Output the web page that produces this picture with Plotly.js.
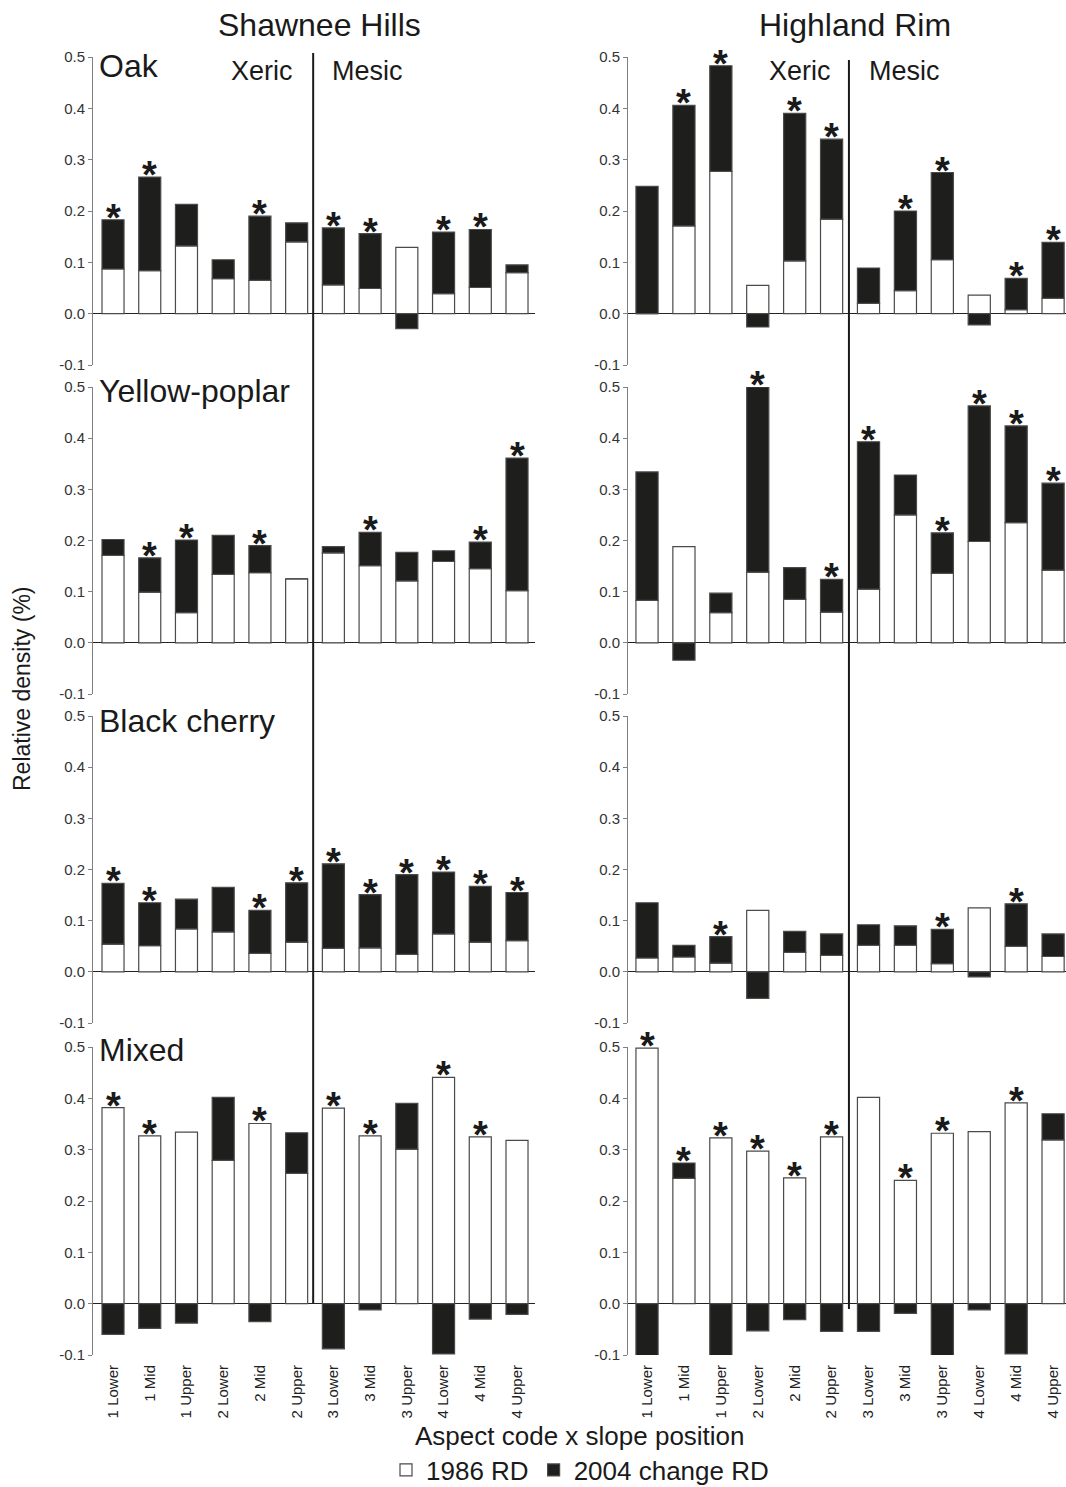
<!DOCTYPE html>
<html>
<head>
<meta charset="utf-8">
<script src="https://cdn.plot.ly/plotly-3.0.1.min.js"></script>
<style>html,body{margin:0;padding:0;background:#fff;}#chart{width:1066px;height:1487px;}</style>
</head>
<body>
<div id="chart"></div>
<script>
// ---------- DATA ----------
const positions = ['1 Lower','1 Mid','1 Upper','2 Lower','2 Mid','2 Upper','3 Lower','3 Mid','3 Upper','4 Lower','4 Mid','4 Upper'];
const regions = ['Shawnee Hills', 'Highland Rim'];
const species = ['Oak', 'Yellow-poplar', 'Black cherry', 'Mixed'];
const aspectGroups = ['Xeric', 'Mesic'];
const seriesNames = ['1986 RD', '2004 change RD'];
const yTickVals = [-0.1, 0, 0.1, 0.2, 0.3, 0.4, 0.5];
const yTickText = ['-0.1', '0.0', '0.1', '0.2', '0.3', '0.4', '0.5'];

// Oak
const oakSH_1986   = [0.087, 0.084, 0.132, 0.068, 0.065, 0.140, 0.056, 0.049, 0.129, 0.039, 0.051, 0.080];
const oakSH_change = [0.096, 0.182, 0.081, 0.037, 0.125, 0.037, 0.111, 0.107, -0.029, 0.120, 0.113, 0.015];
const oakSH_sig    = [1, 1, 0, 0, 1, 0, 1, 1, 0, 1, 1, 0];
const oakHR_1986   = [0.000, 0.171, 0.277, 0.055, 0.103, 0.184, 0.020, 0.045, 0.105, 0.036, 0.008, 0.030];
const oakHR_change = [0.248, 0.235, 0.206, -0.026, 0.287, 0.156, 0.069, 0.155, 0.170, -0.022, 0.061, 0.109];
const oakHR_sig    = [0, 1, 1, 0, 1, 1, 0, 1, 1, 0, 1, 1];
// Yellow-poplar
const ypSH_1986    = [0.171, 0.099, 0.059, 0.134, 0.137, 0.125, 0.176, 0.151, 0.121, 0.159, 0.145, 0.102];
const ypSH_change  = [0.031, 0.067, 0.142, 0.076, 0.053, 0.000, 0.012, 0.065, 0.056, 0.021, 0.052, 0.259];
const ypSH_sig     = [0, 1, 1, 0, 1, 0, 0, 1, 0, 0, 1, 1];
const ypHR_1986    = [0.083, 0.188, 0.059, 0.138, 0.085, 0.060, 0.105, 0.250, 0.136, 0.198, 0.235, 0.142];
const ypHR_change  = [0.251, -0.034, 0.038, 0.362, 0.062, 0.064, 0.288, 0.078, 0.079, 0.265, 0.189, 0.170];
const ypHR_sig     = [0, 0, 0, 1, 0, 1, 1, 0, 1, 1, 1, 1];
// Black cherry
const bcSH_1986    = [0.054, 0.051, 0.084, 0.078, 0.036, 0.058, 0.046, 0.047, 0.034, 0.074, 0.058, 0.061];
const bcSH_change  = [0.119, 0.084, 0.058, 0.087, 0.084, 0.116, 0.165, 0.104, 0.156, 0.121, 0.109, 0.094];
const bcSH_sig     = [1, 1, 0, 0, 1, 1, 1, 1, 1, 1, 1, 1];
const bcHR_1986    = [0.027, 0.029, 0.017, 0.120, 0.038, 0.032, 0.052, 0.052, 0.016, 0.125, 0.050, 0.030];
const bcHR_change  = [0.108, 0.023, 0.052, -0.052, 0.041, 0.042, 0.040, 0.038, 0.067, -0.010, 0.083, 0.044];
const bcHR_sig     = [0, 0, 1, 0, 0, 0, 0, 0, 1, 0, 1, 0];
// Mixed
const mxSH_1986    = [0.382, 0.327, 0.334, 0.279, 0.351, 0.254, 0.381, 0.327, 0.301, 0.441, 0.325, 0.318];
const mxSH_change  = [-0.060, -0.048, -0.038, 0.123, -0.035, 0.079, -0.088, -0.012, 0.089, -0.098, -0.030, -0.021];
const mxSH_sig     = [1, 1, 0, 0, 1, 0, 1, 1, 0, 1, 1, 0];
const mxHR_1986    = [0.498, 0.244, 0.323, 0.297, 0.245, 0.325, 0.402, 0.240, 0.332, 0.335, 0.391, 0.319];
const mxHR_change  = [-0.101, 0.030, -0.101, -0.053, -0.031, -0.054, -0.054, -0.019, -0.101, -0.012, -0.098, 0.051];
const mxHR_sig     = [1, 1, 1, 1, 1, 1, 0, 1, 1, 0, 1, 0];

// ---------- BUILD ----------
const FONT = 'Liberation Sans, Arial, Helvetica, sans-serif';
const W = 1066, H = 1487;
const px = v => v / W;
const py = v => 1 - v / H;

const panels = [
  [oakSH_1986, oakSH_change, oakSH_sig], [oakHR_1986, oakHR_change, oakHR_sig],
  [ypSH_1986, ypSH_change, ypSH_sig],    [ypHR_1986, ypHR_change, ypHR_sig],
  [bcSH_1986, bcSH_change, bcSH_sig],    [bcHR_1986, bcHR_change, bcHR_sig],
  [mxSH_1986, mxSH_change, mxSH_sig],    [mxHR_1986, mxHR_change, mxHR_sig]
];

const colDomains = [[px(93), px(535)], [px(628), 1]];
const colRanges = [[-0.545, 11.49], [-0.515, 11.35]];
const rowPx = [[57, 365], [387, 694], [716, 1023], [1047, 1355]];

const traces = [];
const annotations = [];
const layout = {
  width: W, height: H,
  margin: {l: 0, r: 0, t: 0, b: 0, autoexpand: false},
  paper_bgcolor: '#fff', plot_bgcolor: 'rgba(0,0,0,0)',
  font: {family: FONT, color: '#222'},
  barmode: 'relative',
  bargap: 0.4,
  showlegend: true,
  legend: {
    orientation: 'h', xref: 'container', yref: 'container',
    x: px(580), xanchor: 'center', y: py(1470), yanchor: 'middle',
    font: {size: 26, family: FONT, color: '#1a1a1a'}, itemwidth: 30, traceorder: 'normal',
    bgcolor: 'rgba(0,0,0,0)'
  },
  shapes: [],
  annotations: annotations
};

panels.forEach((p, i) => {
  const k = i + 1;
  const row = Math.floor(i / 2), col = i % 2;
  const xa = k === 1 ? 'x' : 'x' + k;
  const ya = k === 1 ? 'y' : 'y' + k;
  const [base, chg, sig] = p;

  traces.push({
    type: 'bar', x: positions, y: base, xaxis: xa, yaxis: ya,
    name: seriesNames[0], showlegend: i === 0, legendgroup: 'a',
    marker: {color: '#ffffff', line: {color: '#4a4a4a', width: 1.2}},
    hoverinfo: 'x+y'
  });
  traces.push({
    type: 'bar', x: positions, y: chg, xaxis: xa, yaxis: ya,
    name: seriesNames[1], showlegend: i === 0, legendgroup: 'b',
    marker: {color: '#1e1e1c', line: {color: '#4a4a4a', width: 1.2}},
    hoverinfo: 'x+y'
  });

  layout['xaxis' + (k === 1 ? '' : k)] = {
    domain: colDomains[col], range: colRanges[col], type: 'category',
    anchor: ya, showline: false, showgrid: false, zeroline: false, ticks: '',
    showticklabels: row === 3, tickangle: -90, ticklabelstandoff: 6, automargin: false,
    tickfont: {size: 15, family: FONT, color: '#222'}, fixedrange: true
  };
  layout['yaxis' + (k === 1 ? '' : k)] = {
    domain: [py(rowPx[row][1]), py(rowPx[row][0])], range: [-0.1, 0.5],
    anchor: xa, showgrid: false, automargin: false,
    showline: true, linecolor: '#808080', linewidth: 1,
    ticks: 'outside', ticklen: 4, tickcolor: '#808080', tickwidth: 1,
    tickmode: 'array', tickvals: yTickVals, ticktext: yTickText,
    tickfont: {size: 15, family: FONT, color: '#333'},
    zeroline: true, zerolinecolor: '#222222', zerolinewidth: 1.3,
    fixedrange: true
  };

  // significance stars above each bar's positive top
  positions.forEach((c, j) => {
    if (sig[j]) {
      annotations.push({
        xref: xa, yref: ya, x: c, y: base[j] + Math.max(chg[j], 0),
        text: '*', showarrow: false, xanchor: 'center', yanchor: 'middle', yshift: 2,
        font: {size: 38, family: FONT, color: '#1a1a1a', weight: 'bold'}
      });
    }
  });

  // panel species label
  if (col === 0) {
    const labY = [66, 391, 721, 1050][row];
    annotations.push({
      xref: 'paper', yref: 'paper', x: px(97), y: py(labY), xanchor: 'left', yanchor: 'middle',
      text: species[row], showarrow: false, font: {size: 32, family: FONT, color: '#1a1a1a'}
    });
  }
});

// Region titles
annotations.push({xref: 'paper', yref: 'paper', x: px(319), y: py(25), text: regions[0], showarrow: false,
  xanchor: 'center', yanchor: 'middle', font: {size: 32, family: FONT, color: '#1a1a1a'}});
annotations.push({xref: 'paper', yref: 'paper', x: px(855), y: py(25), text: regions[1], showarrow: false,
  xanchor: 'center', yanchor: 'middle', font: {size: 32, family: FONT, color: '#1a1a1a'}});

// Xeric / Mesic labels in top row
[[262, 367], [800, 904]].forEach(pair => {
  pair.forEach((xp, j) => {
    annotations.push({xref: 'paper', yref: 'paper', x: px(xp), y: py(71), text: aspectGroups[j],
      showarrow: false, xanchor: 'center', yanchor: 'middle', font: {size: 27, family: FONT, color: '#1a1a1a'}});
  });
});

// Axis titles
annotations.push({xref: 'paper', yref: 'paper', x: px(22), y: py(689), text: 'Relative density (%)',
  showarrow: false, textangle: -90, xanchor: 'center', yanchor: 'middle',
  font: {size: 23, family: FONT, color: '#1a1a1a'}});
annotations.push({xref: 'paper', yref: 'paper', x: px(580), y: py(1436), text: 'Aspect code x slope position',
  showarrow: false, xanchor: 'center', yanchor: 'middle',
  font: {size: 26, family: FONT, color: '#1a1a1a'}});

// Xeric | Mesic dividers running through all four rows
layout.shapes.push({type: 'line', xref: 'x', yref: 'paper', x0: 5.45, x1: 5.45, y0: py(1303), y1: py(53),
  line: {color: '#1a1a1a', width: 2}});
layout.shapes.push({type: 'line', xref: 'x2', yref: 'paper', x0: 5.47, x1: 5.47, y0: py(1309), y1: py(60),
  line: {color: '#1a1a1a', width: 2}});

Plotly.newPlot('chart', traces, layout, {staticPlot: true, displayModeBar: false});
</script>
</body>
</html>
